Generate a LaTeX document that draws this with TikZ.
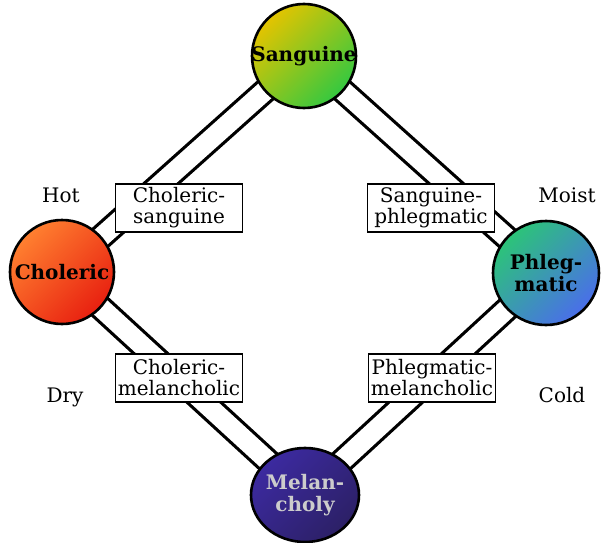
\documentclass[tikz,border=0pt]{standalone}
\usepackage{fontspec}
\setmainfont{DejaVu Serif}
\usetikzlibrary{shapes.geometric}
\definecolor{sangA}{HTML}{E4C400}
\definecolor{sangB}{HTML}{34C840}
\definecolor{cholA}{HTML}{FF8030}
\definecolor{cholB}{HTML}{E82010}
\definecolor{phlA}{HTML}{2CC478}
\definecolor{phlB}{HTML}{4A6EEA}
\definecolor{melA}{HTML}{3C2AA0}
\definecolor{melB}{HTML}{2C2066}
\definecolor{meltext}{HTML}{CCCCCC}
\begin{document}
\begin{tikzpicture}[x=1pt,y=-1pt,
  temper/.style={ellipse, draw=black, line width=2.6pt, minimum width=104pt, minimum height=104pt, inner sep=0pt},
  sangfill/.style={top color=sangA, bottom color=sangB, shading angle=45},
  cholfill/.style={top color=cholA, bottom color=cholB, shading angle=45},
  phlfill/.style={top color=phlA, bottom color=phlB, shading angle=45},
  melfill/.style={top color=melA, bottom color=melB, shading angle=45},
  tempertext/.style={align=center, inner sep=0pt, font=\fontsize{20}{22}\selectfont\bfseries},
  pairbox/.style={draw=black, line width=1.3pt, fill=white, minimum width=127pt, minimum height=48pt, inner sep=0pt, align=center, font=\fontsize{20}{21}\selectfont},
  quality/.style={font=\fontsize{20}{24}\selectfont, anchor=base},
  link/.style={line width=3.2pt, double=white, double distance=19.5pt}
]
\useasboundingbox (0,0) rectangle (602,543);
\coordinate (cS) at (304,56);
\coordinate (cC) at (62,272);
\coordinate (cP) at (546,273);
\coordinate (cM) at (305,495);
\draw[link] (cC) -- (cS);
\draw[link] (cS) -- (cP);
\draw[link] (cC) -- (cM);
\draw[link] (cP) -- (cM);
\node[temper, sangfill] (S) at (cS) {};
\node[temper, cholfill] (C) at (cC) {};
\node[temper, phlfill, minimum width=106pt] (P) at (cP) {};
\node[temper, melfill, minimum width=108pt, minimum height=94pt] (M) at (cM) {};
\node[tempertext] (St) at (S) {Sanguine};
\node[tempertext] (Ct) at (C) {Choleric};
\node[tempertext] (Pt) at (P) {Phleg-\\matic};
\node[tempertext, text=meltext] (Mt) at (M) {Melan-\\choly};
\node[pairbox] (CS) at (179,208) {Choleric-\\sanguine};
\node[pairbox] (SP) at (431,208) {Sanguine-\\phlegmatic};
\node[pairbox] (CM) at (179,378) {Choleric-\\melancholic};
\node[pairbox] (PM) at (432,378) {Phlegmatic-\\melancholic};
\node[quality] (hot) at (61,202) {Hot};
\node[quality] (moist) at (567,202) {Moist};
\node[quality] (dry) at (65,402) {Dry};
\node[quality] (cold) at (562,402) {Cold};
\end{tikzpicture}
\end{document}
